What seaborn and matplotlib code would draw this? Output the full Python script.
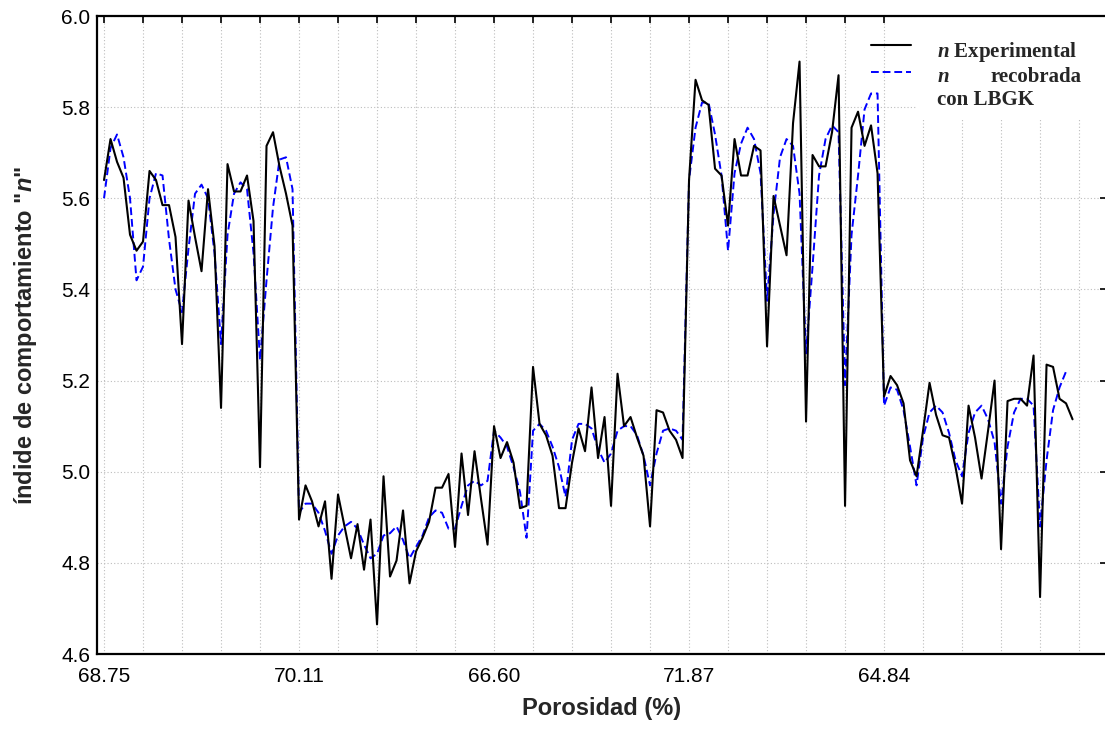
import matplotlib
matplotlib.use("Agg")
import pandas as pd
import matplotlib.pyplot as plt
import seaborn as sns
from matplotlib.patches import Rectangle
from matplotlib.lines import Line2D

# --- Data (index along the sample sequence) ---
n_exp = [5.64, 5.73, 5.68, 5.645, 5.52, 5.485, 5.505, 5.66, 5.64, 5.585,
         5.585, 5.515, 5.28, 5.595, 5.515, 5.44, 5.62, 5.495, 5.14, 5.675,
         5.615, 5.615, 5.65, 5.55, 5.01, 5.715, 5.745, 5.67, 5.61, 5.54,
         4.895, 4.97, 4.935, 4.88, 4.935, 4.765, 4.95, 4.88, 4.81, 4.885,
         4.785, 4.895, 4.665, 4.99, 4.77, 4.805, 4.915, 4.755, 4.825, 4.855,
         4.89, 4.965, 4.965, 4.995, 4.835, 5.04, 4.905, 5.045, 4.94, 4.84,
         5.10, 5.03, 5.065, 5.02, 4.92, 4.925, 5.23, 5.105, 5.08, 5.035,
         4.92, 4.92, 5.02, 5.095, 5.045, 5.185, 5.03, 5.12, 4.925, 5.215,
         5.10, 5.12, 5.075, 5.035, 4.88, 5.135, 5.13, 5.09, 5.07, 5.03,
         5.64, 5.86, 5.815, 5.805, 5.665, 5.65, 5.54, 5.73, 5.65, 5.65,
         5.715, 5.705, 5.275, 5.605, 5.54, 5.475, 5.765, 5.90, 5.11, 5.695,
         5.67, 5.67, 5.745, 5.87, 4.925, 5.755, 5.79, 5.715, 5.76, 5.655,
         5.165, 5.21, 5.19, 5.15, 5.025, 4.99, 5.09, 5.195, 5.125, 5.08,
         5.075, 5.01, 4.93, 5.145, 5.075, 4.985, 5.09, 5.20, 4.83, 5.155,
         5.16, 5.16, 5.145, 5.255, 4.725, 5.235, 5.23, 5.16, 5.15, 5.115]

n_lbgk = [5.60, 5.71, 5.74, 5.69, 5.60, 5.42, 5.45, 5.60, 5.655, 5.65,
          5.51, 5.40, 5.35, 5.49, 5.61, 5.63, 5.60, 5.48, 5.28, 5.52,
          5.61, 5.635, 5.62, 5.48, 5.245, 5.42, 5.58, 5.685, 5.69, 5.62,
          4.91, 4.93, 4.93, 4.91, 4.87, 4.82, 4.86, 4.88, 4.89, 4.875,
          4.84, 4.81, 4.82, 4.86, 4.865, 4.88, 4.85, 4.81, 4.835, 4.86,
          4.90, 4.915, 4.91, 4.875, 4.875, 4.925, 4.97, 4.98, 4.97, 4.98,
          5.09, 5.075, 5.055, 5.01, 4.955, 4.855, 5.09, 5.105, 5.09, 5.055,
          5.01, 4.945, 5.07, 5.105, 5.105, 5.095, 5.05, 5.02, 5.04, 5.09,
          5.10, 5.10, 5.08, 5.035, 4.97, 5.04, 5.09, 5.095, 5.09, 5.07,
          5.64, 5.755, 5.81, 5.81, 5.74, 5.65, 5.485, 5.655, 5.72, 5.755,
          5.73, 5.655, 5.375, 5.565, 5.69, 5.73, 5.715, 5.61, 5.26, 5.45,
          5.65, 5.73, 5.76, 5.745, 5.19, 5.52, 5.65, 5.795, 5.83, 5.83,
          5.145, 5.185, 5.18, 5.135, 5.055, 4.97, 5.075, 5.13, 5.145, 5.13,
          5.085, 5.025, 4.99, 5.085, 5.13, 5.145, 5.115, 5.065, 4.93, 5.055,
          5.13, 5.16, 5.16, 5.145, 4.88, 5.025, 5.135, 5.185, 5.22]

tick_pos = list(range(0, 151, 6))
label_pos = [0, 30, 60, 90, 120]
label_txt = ["68.75", "70.11", "66.60", "71.87", "64.84"]
y_ticks = [4.6, 4.8, 5.0, 5.2, 5.4, 5.6, 5.8, 6.0]

df_exp = pd.DataFrame({"idx": range(len(n_exp)), "n": n_exp})
df_lbgk = pd.DataFrame({"idx": range(len(n_lbgk)), "n": n_lbgk})

# --- Style ---
sns.set_theme(style="white")
plt.rcParams["font.family"] = ["Liberation Sans", "DejaVu Sans"]
plt.rcParams["mathtext.fontset"] = "custom"
plt.rcParams["mathtext.it"] = "Liberation Sans:italic:bold"
plt.rcParams["mathtext.bfit"] = "Liberation Serif:italic:bold"

fig = plt.figure(figsize=(11.05, 7.47), dpi=100)
# right edge of the frame sits just past the picture border, as in the original
ax = fig.add_axes([97 / 1105, 1 - 654 / 747, 1010 / 1105, 638 / 747])

sns.lineplot(data=df_exp, x="idx", y="n", ax=ax, color="black",
             linewidth=1.5, zorder=3)
sns.lineplot(data=df_lbgk, x="idx", y="n", ax=ax, color="#0000ff",
             linewidth=1.4, linestyle=(0, (4, 2)), zorder=2)

ax.set_xlim(-1.08, 154.3)
ax.set_ylim(4.6, 6.0)
ax.set_xticks(tick_pos)
ax.set_xticklabels([label_txt[label_pos.index(t)] if t in label_pos else ""
                    for t in tick_pos])
ax.set_yticks(y_ticks)
ax.set_yticklabels([f"{v:.1f}" for v in y_ticks])

ax.grid(True, color="#bdbdbd", linestyle=(0, (1, 2)), linewidth=0.8)
ax.tick_params(direction="in", length=5, width=1.2, top=True, right=True,
               labelsize=15, colors="black")
ax.tick_params(axis="x", pad=9)
ax.tick_params(axis="y", pad=5)
for s in ax.spines.values():
    s.set_linewidth(1.6)
    s.set_color("black")

ax.set_xlabel("Porosidad (%)", fontsize=17, fontweight="bold", labelpad=8)
ax.set_ylabel('índide de comportamiento "$\\mathit{n}$"', fontsize=17,
              fontweight="bold", labelpad=16)

# --- Legend (drawn by hand to mimic the justified layout) ---
ax.add_patch(Rectangle((0.812, 0.84), 0.19, 0.16, transform=ax.transAxes,
                       facecolor="white", edgecolor="none", zorder=1.6,
                       clip_on=False))
ax.add_line(Line2D([0.766, 0.806], [0.9545, 0.9545], transform=ax.transAxes,
                   color="black", linewidth=1.5, zorder=4))
ax.add_line(Line2D([0.766, 0.806], [0.912, 0.912], transform=ax.transAxes,
                   color="#0000ff", linewidth=1.4, linestyle=(0, (4, 2)),
                   zorder=4))
leg_font = dict(family="Liberation Serif", fontweight="bold", fontsize=15,
                va="baseline", transform=ax.transAxes, zorder=5)
ax.text(0.8312, 0.9357, "$\\mathbfit{n}$ Experimental", ha="left", **leg_font)
ax.text(0.8312, 0.8966, "$\\mathbfit{n}$", ha="left", **leg_font)
ax.text(0.9752, 0.8966, "recobrada", ha="right", **leg_font)
ax.text(0.8312, 0.8605, "con LBGK", ha="left", **leg_font)

fig.savefig("out.png", dpi=100)
